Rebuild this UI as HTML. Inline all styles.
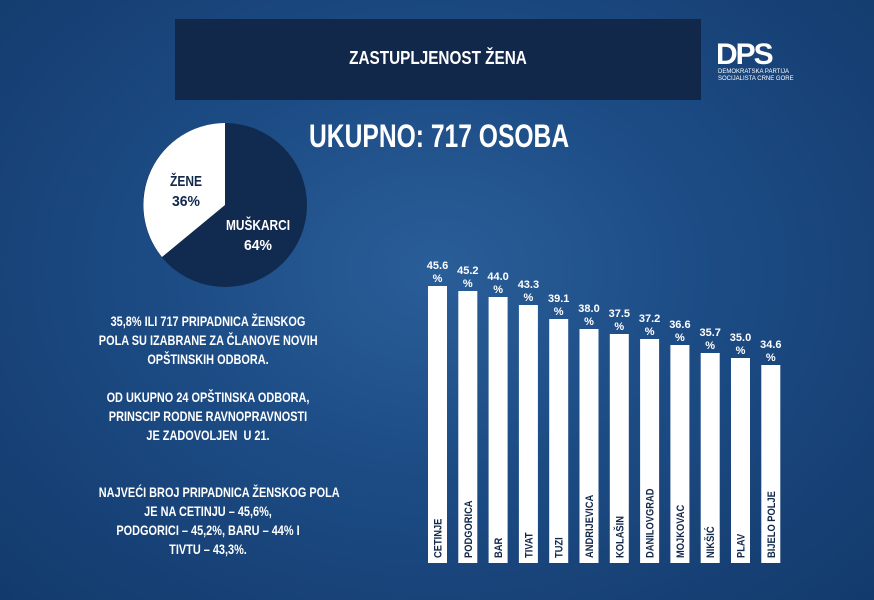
<!DOCTYPE html>
<html><head><meta charset="utf-8"><style>
body{margin:0;width:874px;height:600px;overflow:hidden;background:radial-gradient(ellipse at 50% 45%,#2a5e98 0%,#1c4b84 45%,#133a6c 100%);font-family:"Liberation Sans",sans-serif;font-weight:bold;color:#fff;position:relative}
.a{position:absolute;white-space:nowrap}
.hdr{left:175px;top:19px;width:526px;height:81px;background:#12284b}
</style></head><body>
<div class="a hdr"></div>
<div class="a" style="left:175px;top:48px;width:526px;text-align:center;font-size:18px;transform:scaleX(0.85)">ZASTUPLJENOST ŽENA</div>
<div class="a" style="left:716px;top:38px;font-size:30px;letter-spacing:-2px;font-weight:900">DPS</div>
<div class="a" style="left:718px;top:69px;font-size:6px;font-weight:normal;line-height:7px">DEMOKRATSKA PARTIJA<br>SOCIJALISTA CRNE GORE</div>
<svg class="a" style="left:0;top:0" width="874" height="600">
<circle cx="225" cy="205" r="82" fill="#112a4f"/>
<path d="M225 205 L225 123 A82 82 0 0 0 162 257 Z" fill="#fff"/>
<text x="186" y="186" font-size="15" fill="#12284b" text-anchor="middle" textLength="32" lengthAdjust="spacingAndGlyphs">ŽENE</text>
<text x="186" y="206" font-size="15" fill="#12284b" text-anchor="middle" textLength="28" lengthAdjust="spacingAndGlyphs">36%</text>
<text x="258" y="230" font-size="15" fill="#fff" text-anchor="middle" textLength="64" lengthAdjust="spacingAndGlyphs">MUŠKARCI</text>
<text x="258" y="250" font-size="15" fill="#fff" text-anchor="middle" textLength="28" lengthAdjust="spacingAndGlyphs">64%</text>
<g fill="#fff" font-size="11" text-anchor="middle">
<g id="bars"></g>
</g>
</svg>
<div class="a" style="left:309px;top:118px;font-size:32px;transform:scaleX(0.77);transform-origin:left">UKUPNO: 717 OSOBA</div>
<div class="a" style="left:68px;top:312px;width:280px;text-align:center;font-size:14px;line-height:19px;transform:scaleX(0.78)">35,8% ILI 717 PRIPADNICA ŽENSKOG<br>POLA SU IZABRANE ZA ČLANOVE NOVIH<br>OPŠTINSKIH ODBORA.<br><br>OD UKUPNO 24 OPŠTINSKA ODBORA,<br>PRINSCIP RODNE RAVNOPRAVNOSTI<br>JE ZADOVOLJEN &nbsp;U 21.<br><br><br>NAJVEĆI BROJ PRIPADNICA ŽENSKOG POLA<br>JE NA CETINJU – 45,6%,<br>PODGORICI – 45,2%, BARU – 44% I<br>TIVTU – 43,3%.</div>
<script>
var d=[["CETINJE",45.6,286],["PODGORICA",45.2,291],["BAR",44.0,297],["TIVAT",43.3,305],["TUZI",39.1,319],["ANDRIJEVICA",38.0,329],["KOLAŠIN",37.5,334],["DANILOVGRAD",37.2,339],["MOJKOVAC",36.6,345],["NIKŠIĆ",35.7,353],["PLAV",35.0,358],["BIJELO POLJE",34.6,365]];
var s="";d.forEach(function(e,i){var x=428+i*30.3,cx=x+9.5;
s+='<rect x="'+x+'" y="'+e[2]+'" width="19" height="'+(563-e[2])+'" fill="#fff"/>';
s+='<text x="'+cx+'" y="'+(e[2]-17)+'">'+e[1].toFixed(1)+'</text><text x="'+cx+'" y="'+(e[2]-4)+'">%</text>';
s+='<text transform="translate('+(cx+4)+',558) rotate(-90) scale(0.85,1)" fill="#12284b" text-anchor="start" font-size="11">'+e[0]+'</text>';});
document.getElementById("bars").innerHTML=s;
</script>
</body></html>
